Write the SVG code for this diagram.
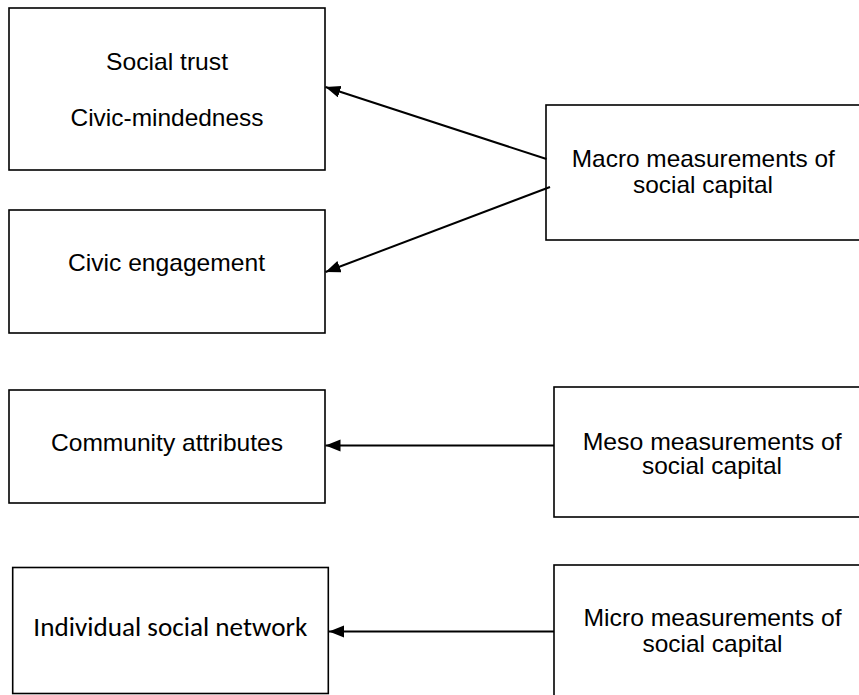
<svg xmlns="http://www.w3.org/2000/svg" width="859" height="695" viewBox="0 0 859 695">
<style>
.box{fill:#fff;stroke:#000;stroke-width:1.6}
.t{font-family:"Liberation Sans",Arial,sans-serif;font-size:24px;fill:#000;text-anchor:middle}
.c{font-family:"Carlito","Lato",sans-serif;font-size:26px;fill:#000;text-anchor:middle}
.conn{stroke:#000;stroke-width:2;fill:none;marker-end:url(#ah)}
</style>
<defs>
<marker id="ah" markerUnits="userSpaceOnUse" markerWidth="17" markerHeight="13" refX="15" refY="6" orient="auto">
<path d="M0,0 L15,6 L0,12 Z" fill="#000"/>
</marker>
</defs>
<rect width="859" height="695" fill="#fff"/>
<g id="social-trust">
<rect class="box" x="9" y="8" width="316" height="162"/>
<text class="t" x="167" y="70" textLength="122" lengthAdjust="spacingAndGlyphs">Social trust</text>
<text class="t" x="167" y="126" textLength="193" lengthAdjust="spacingAndGlyphs">Civic-mindedness</text>
</g>
<g id="civic-engagement">
<rect class="box" x="9" y="210" width="316" height="123"/>
<text class="t" x="166.5" y="271" textLength="197" lengthAdjust="spacingAndGlyphs">Civic engagement</text>
</g>
<g id="community-attributes">
<rect class="box" x="9" y="390" width="316" height="113"/>
<text class="t" x="167" y="450.5" textLength="232" lengthAdjust="spacingAndGlyphs">Community attributes</text>
</g>
<g id="individual-network">
<rect class="box" x="12.7" y="567.5" width="315.6" height="126"/>
<text class="c" x="170.3" y="636" textLength="274" lengthAdjust="spacingAndGlyphs">Individual social network</text>
</g>
<g id="macro">
<rect class="box" x="546" y="105" width="316" height="135"/>
<text class="t" x="703.3" y="166.5" textLength="263" lengthAdjust="spacingAndGlyphs">Macro measurements of</text>
<text class="t" x="703" y="193" textLength="140" lengthAdjust="spacingAndGlyphs">social capital</text>
</g>
<g id="meso">
<rect class="box" x="554" y="387" width="316" height="130"/>
<text class="t" x="712.2" y="449.5" textLength="259" lengthAdjust="spacingAndGlyphs">Meso measurements of</text>
<text class="t" x="712" y="474" textLength="140" lengthAdjust="spacingAndGlyphs">social capital</text>
</g>
<g id="micro">
<rect class="box" x="554" y="565" width="316" height="140"/>
<text class="t" x="712.5" y="626" textLength="258" lengthAdjust="spacingAndGlyphs">Micro measurements of</text>
<text class="t" x="712.5" y="652" textLength="140" lengthAdjust="spacingAndGlyphs">social capital</text>
</g>
<g id="connectors">
<line class="conn" x1="546.5" y1="159" x2="325.5" y2="87"/>
<line class="conn" x1="550" y1="187" x2="325.5" y2="272"/>
<line class="conn" x1="554" y1="445.5" x2="325.5" y2="445.5"/>
<line class="conn" x1="554" y1="631.5" x2="329" y2="631.5"/>
</g>
</svg>
